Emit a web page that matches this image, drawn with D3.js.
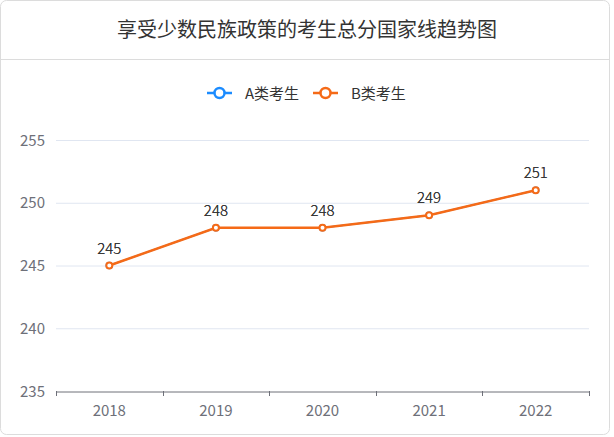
<!DOCTYPE html>
<html><head><meta charset="utf-8">
<script src="https://cdn.jsdelivr.net/npm/d3@7/dist/d3.min.js"></script>
<style>html,body{margin:0;padding:0;background:#fff;}svg{display:block;font-family:"Noto Sans CJK SC","Noto Sans",sans-serif;}</style>
</head><body><svg id="c" width="614" height="437"></svg>
<script>
const title = "享受少数民族政策的考生总分国家线趋势图";
const years = ["2018","2019","2020","2021","2022"];
const seriesNames = ["A类考生","B类考生"];
const seriesA = [245,248,248,249,251];
const seriesB = [245,248,248,249,251];
const yTicks = [235,240,245,250,255];
const colors = ["#1c8cff","#f56a17"];

const svg = d3.select("#c");
svg.append("rect").attr("x",0.5).attr("y",0.5).attr("width",609).attr("height",434).attr("rx",6)
  .attr("fill","#fff").attr("stroke","#dcdcdc");
svg.append("line").attr("x1",1).attr("x2",609).attr("y1",59.5).attr("y2",59.5).attr("stroke","#dcdcdc");
svg.append("text").attr("x",307).attr("y",37).attr("text-anchor","middle").attr("font-size",20).attr("fill","#333").text(title);

// legend
const legX = [207, 313];
seriesNames.forEach((n,i)=>{
  const g = svg.append("g").attr("transform",`translate(${legX[i]},93)`);
  g.append("line").attr("x1",0).attr("x2",25).attr("y1",0).attr("y2",0).attr("stroke",colors[i]).attr("stroke-width",2.5);
  g.append("circle").attr("cx",12.5).attr("cy",0).attr("r",5).attr("fill","#fff").attr("stroke",colors[i]).attr("stroke-width",2.5);
  g.append("text").attr("x",38).attr("y",5.5).attr("font-size",15).attr("fill","#333").text(n);
});

const x = d3.scaleBand().domain(years).range([56,589]);
const y = d3.scaleLinear().domain([235,255]).range([391,140]);

// grid
svg.append("g").selectAll("line").data(yTicks.slice(1)).join("line")
  .attr("x1",56).attr("x2",589).attr("y1",d=>y(d)+0.5).attr("y2",d=>y(d)+0.5).attr("stroke","#e0e6f1");

// y axis labels
svg.append("g").selectAll("text").data(yTicks).join("text")
  .attr("x",45).attr("y",d=>y(d)+5.5).attr("text-anchor","end").attr("font-size",15).attr("fill","#6e7079").text(d=>d);

// x axis
const xa = svg.append("g").attr("transform","translate(0,391.5)")
  .call(d3.axisBottom(x).tickSize(0).tickPadding(0));
xa.select(".domain").attr("stroke","#6e7079").attr("stroke-width",1);
xa.selectAll(".tick text").attr("font-size",15).attr("fill","#6e7079").attr("dy",0).attr("y",24).attr("font-family","'Noto Sans CJK SC','Noto Sans',sans-serif");
const bounds = [...years.map(d=>x(d)), x(years[years.length-1])+x.bandwidth()];
svg.append("g").selectAll("line").data(bounds).join("line")
  .attr("x1",d=>Math.round(d)+0.5).attr("x2",d=>Math.round(d)+0.5).attr("y1",391).attr("y2",396)
  .attr("stroke","#6e7079");

const cx = d=>x(d)+x.bandwidth()/2;
[seriesA, seriesB].forEach((vals,i)=>{
  const pts = years.map((yr,j)=>[cx(yr), y(vals[j])]);
  svg.append("path").attr("d",d3.line()(pts)).attr("fill","none").attr("stroke",colors[i]).attr("stroke-width",i===0?1.5:2.5);
  svg.append("g").selectAll("circle").data(pts).join("circle")
    .attr("cx",d=>d[0]).attr("cy",d=>d[1]).attr("r",3).attr("fill","#fff").attr("stroke",colors[i]).attr("stroke-width",i===0?1.5:2);
  svg.append("g").selectAll("text").data(vals).join("text")
    .attr("x",(d,j)=>cx(years[j])).attr("y",d=>y(d)-12).attr("text-anchor","middle")
    .attr("font-size",15).attr("fill","#333").attr("font-weight",300).text(d=>d);
});
</script></body></html>
